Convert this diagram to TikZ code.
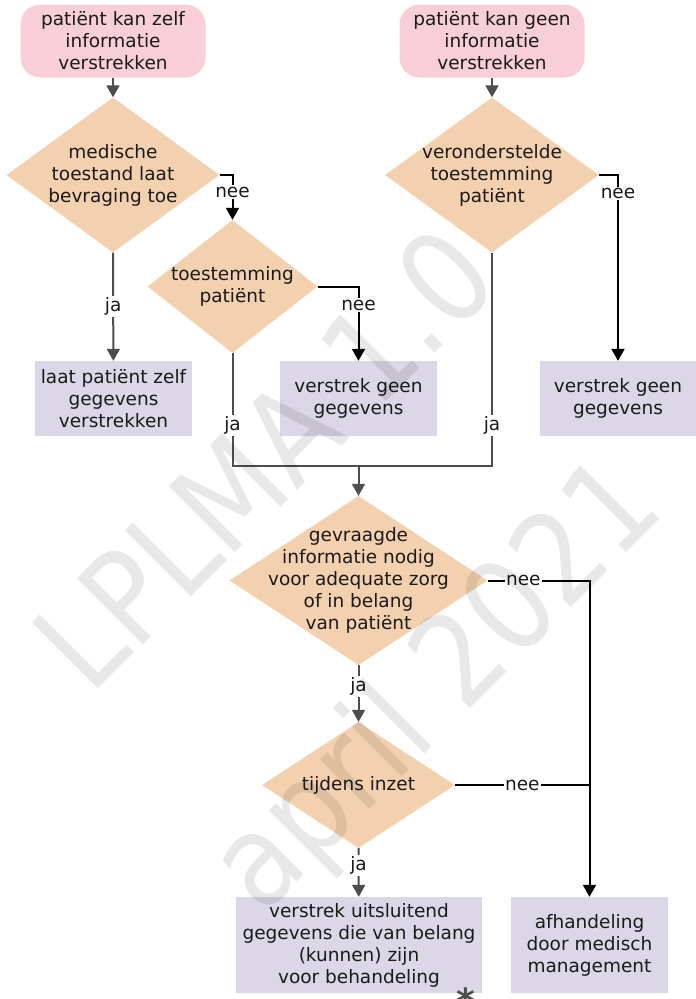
\documentclass[tikz,border=0pt]{standalone}
\usepackage{fontspec}
\setmainfont{DejaVu Sans}
\newfontfamily\watermerkfont{DejaVu Sans}[FakeStretch=0.88]
\usetikzlibrary{shapes.geometric,arrows.meta}
\definecolor{startroze}{HTML}{F8CFD9}
\definecolor{vraagperzik}{HTML}{F3D1AE}
\definecolor{eindlila}{HTML}{DBD7E6}
\definecolor{lijngrijs}{HTML}{4D4D4D}
\definecolor{tekstzwart}{HTML}{1A1A1A}
\begin{document}
\begin{tikzpicture}[x=1pt,y=-1pt,
 font=\fontsize{18.5}{22}\selectfont,text=tekstzwart,
 start/.style={fill=startroze,rounded corners=20pt,minimum width=185pt,minimum height=73pt,align=center,inner sep=0pt},
 vraag/.style={diamond,fill=vraagperzik,inner sep=0pt},
 eind/.style={fill=eindlila,align=center,inner sep=0pt},
 japijl/.style={draw=lijngrijs,line width=2pt,-{Triangle[length=12pt,width=13pt]}},
 neepijl/.style={draw=black,line width=2pt,-{Triangle[length=12pt,width=13pt]}},
 jalijn/.style={draw=lijngrijs,line width=2pt},
 neelijn/.style={draw=black,line width=2pt},
 lbl/.style={fill=white,inner sep=1.5pt},
 watermerk/.style={rotate=45,font=\watermerkfont\fontsize{128}{128}\selectfont,text=black,opacity=0.09}]
 \useasboundingbox (0,0) rectangle (696,999);
 \node[start] (start1) at (113,41) {patiënt kan zelf\\informatie\\verstrekken};
 \node[start] (start2) at (492,41) {patiënt kan geen\\informatie\\verstrekken};
 \node[vraag,minimum width=213pt,minimum height=155pt,label={[align=center]center:{medische\\toestand laat\\bevraging toe}}] (bevraging) at (113,175) {};
 \node[vraag,minimum width=214pt,minimum height=155pt,label={[align=center]center:{veronderstelde\\toestemming\\patiënt}}] (veronderstelde) at (492,175) {};
 \node[vraag,minimum width=170pt,minimum height=133pt,label={[align=center]center:{toestemming\\patiënt}}] (toestemming) at (232.5,286.5) {};
 \node[eind,minimum width=157pt,minimum height=75pt] (zelf) at (113.5,398.5) {laat patiënt zelf\\gegevens\\verstrekken};
 \node[eind,minimum width=157pt,minimum height=75pt] (geen1) at (358.5,398.5) {verstrek geen\\gegevens};
 \node[eind,minimum width=156pt,minimum height=75pt] (geen2) at (618,398.5) {verstrek geen\\gegevens};
 \coordinate (samen) at (358.5,466);
 \node[vraag,minimum width=258pt,minimum height=169pt,label={[align=center]center:{gevraagde\\informatie nodig\\voor adequate zorg\\of in belang\\van patiënt}}] (nodig) at (358.5,580.5) {};
 \node[vraag,minimum width=193pt,minimum height=126pt,label={center:tijdens inzet}] (inzet) at (358.5,785) {};
 \node[eind,minimum width=246pt,minimum height=96pt] (uitsluitend) at (359,945) {verstrek uitsluitend\\gegevens die van belang\\(kunnen) zijn\\voor behandeling};
 \node[eind,minimum width=157pt,minimum height=96pt] (management) at (589.5,945) {afhandeling\\door medisch\\management};
 \node[text=lijngrijs,font=\fontsize{36}{36}\bfseries] (ster) at (466,1001) {*};

 \draw[japijl] (start1) -- (bevraging.north);
 \draw[japijl] (start2) -- (veronderstelde.north);
 \draw[japijl] (bevraging.south) -- node[lbl]{ja} (zelf);
 \draw[neepijl] (bevraging.east) -- (bevraging.east -| toestemming.north) -- node[lbl,pos=0.38]{nee} (toestemming.north);
 \draw[neepijl] (toestemming.east) -- (toestemming.east -| geen1.north) -- node[lbl,pos=0.25]{nee} (geen1);
 \draw[neepijl] (veronderstelde.east) -- (veronderstelde.east -| geen2.north) -- node[lbl,pos=0.1]{nee} (geen2);
 \draw[jalijn] (toestemming.south) -- node[lbl,pos=0.64]{ja} (toestemming.south |- samen) -- (samen);
 \draw[jalijn] (veronderstelde.south) -- node[lbl,pos=0.81]{ja} (veronderstelde.south |- samen) -- (samen);
 \draw[japijl] (samen) -- (nodig.north);
 \draw[japijl] (nodig.south) -- node[lbl,pos=0.37]{ja} (inzet.north);
 \draw[japijl] (inzet.south) -- node[lbl,pos=0.35]{ja} (uitsluitend);
 \draw[neepijl] (nodig.east) -- node[lbl,pos=0.35]{nee} (nodig.east -| management.north) -- (management);
 \draw[neelijn] (inzet.east) -- node[lbl,pos=0.5]{nee} (inzet.east -| management.north);

 \node[watermerk] (watermerk1) at (264,458) {LPLMA 1.0};
 \node[watermerk] (watermerk2) at (440,689) {april 2021};
\end{tikzpicture}
\end{document}
